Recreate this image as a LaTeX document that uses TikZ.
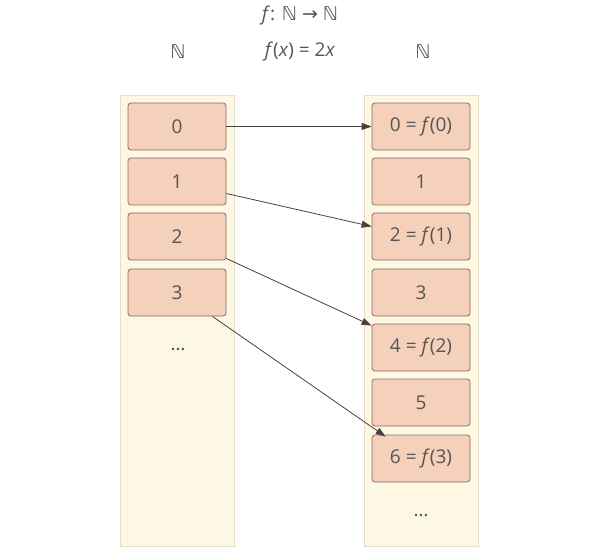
\documentclass[tikz,border=0pt]{standalone}
\usepackage{fontspec}
\setmainfont{Open Sans}
\newfontfamily\symf{DejaVu Sans}
\usetikzlibrary{calc,arrows.meta}
\definecolor{boxfill}{HTML}{F5D0BA}
\definecolor{boxdraw}{HTML}{8A6A5C}
\definecolor{colfill}{HTML}{FDF8E4}
\definecolor{coldraw}{HTML}{E6DEC6}
\definecolor{arr}{HTML}{4A3F3F}
\definecolor{txt}{HTML}{555555}
\newcommand{\NN}{{\symf ℕ}}
\tikzset{
  cell/.style={draw=boxdraw, fill=boxfill, rounded corners=3pt, minimum width=98pt, minimum height=47pt, inner sep=0pt, font=\fontsize{19}{22}\selectfont, text=txt, line width=0.8pt},
  col/.style={draw=coldraw, fill=colfill, line width=0.8pt},
  lbl/.style={font=\fontsize{19}{22}\selectfont, text=txt},
  link/.style={draw=arr, line width=0.8pt, -{Triangle[length=10pt,width=7pt]}}
}
\begin{document}
\begin{tikzpicture}[x=1pt,y=-1pt]
\useasboundingbox (0,0) rectangle (600,556);
\path[col] (120,95) rectangle (234,546);
\path[col] (364,95) rectangle (478,546);
\node[lbl] (t1) at (300,16) {\textit{f}: \NN\ {\symf →} \NN};
\node[lbl] (t2) at (300,52) {\textit{f}(\textit{x}) = 2\textit{x}};
\node[lbl] (nl) at (178,52) {\NN};
\node[lbl] (nr) at (423,52) {\NN};
\node[cell] (l0) at (177,126.5) {0};
\node[cell] (l1) at (177,181.5) {1};
\node[cell] (l2) at (177,236.5) {2};
\node[cell] (l3) at (177,292.5) {3};
\node[lbl] (ld) at (178,350) {…};
\node[cell] (r0) at (421,126.5) {0 = \textit{f}(0)};
\node[cell] (r1) at (421,181.5) {1};
\node[cell] (r2) at (421,236.5) {2 = \textit{f}(1)};
\node[cell] (r3) at (421,292.5) {3};
\node[cell] (r4) at (421,347.5) {4 = \textit{f}(2)};
\node[cell] (r5) at (421,402.5) {5};
\node[cell] (r6) at (421,458.5) {6 = \textit{f}(3)};
\node[lbl] (rd) at (421,516) {…};
\draw[link] (l0.east) -- (r0.west);
\draw[link] ($(l1.east)+(0,12)$) -- ($(r2.west)+(0,-10)$);
\draw[link] ($(l2.east)+(0,22)$) -- ($(r4.north west)+(0,2)$);
\draw[link] ($(l3.south east)+(-14,0)$) -- ($(r6.north west)+(14,2)$);
\end{tikzpicture}
\end{document}
